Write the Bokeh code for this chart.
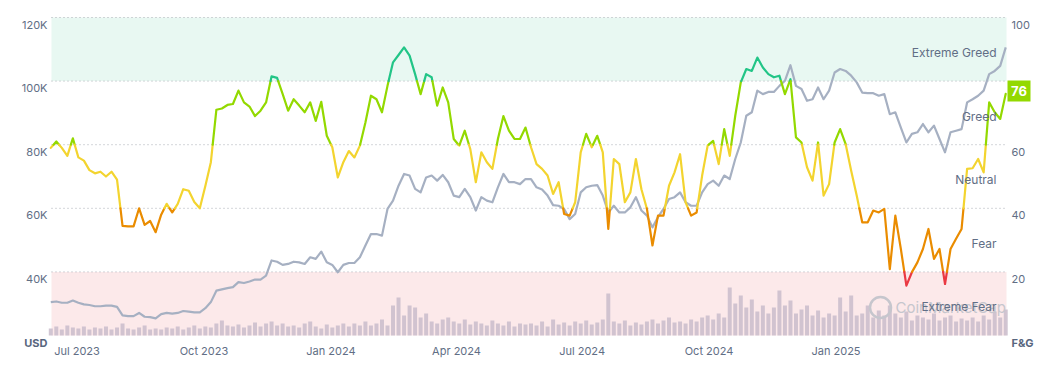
import numpy as np
import pandas as pd
from bokeh.plotting import figure
from bokeh.models import Range1d, BoxAnnotation
from bokeh.core.properties import value
from bokeh.embed import file_html
from bokeh.resources import INLINE

# ---------------- data ----------------
start_date = "2023-06-12"
n_points = 174
step = "4D"

fear_greed = [
    59, 61, 59, 56.5, 62, 56, 55, 52, 51, 51.5,
    50, 51.5, 49, 34.5, 34.3, 34.3, 40, 34.8, 36, 32.5,
    38, 41.4, 38.7, 41.4, 46, 45.5, 42, 40, 47, 54.5,
    71, 71.4, 72.5, 72.8, 77, 73.3, 72, 69, 70.7, 73.3,
    81.5, 81, 76, 70.7,
    74.3, 72.3, 70.2, 73.3, 67.5, 73.5, 62.8, 59.2, 49.7, 54.5,
    58, 56, 59.7, 67, 75.4, 74.3, 70.2, 78.5, 85.9, 88.2,
    90.6, 88, 82.2, 75.9, 82.2, 81.2, 72.3, 78, 73.3, 61.8,
    59.7, 64.4, 58.6, 48.2, 57.6, 54.5, 52.4, 61.8, 69, 64.4,
    61.8, 61.8, 65.4,
    59.2, 53.9, 52.4, 50.3, 44.5, 48.2, 38.2, 37.7, 41.9, 57.6,
    63.4, 59.2, 62.8, 57.6, 33.5, 55.5, 53.9, 41.9, 45, 55.5,
    46, 39.8, 28.3, 37.7, 37.7, 47.1, 51.3, 57, 41.9, 37.7,
    38.7, 50.3, 59.7, 61.2, 53.9, 64.9, 56.5, 69.1, 79.6, 83.8,
    83.2, 87.4, 84.3, 82.2,
    81.2, 81.7, 75.9, 80.6, 62.3, 60.7, 52.9, 48.7, 60.7, 44,
    47.6, 60.7, 64.9, 60.2, 51.8, 44, 35.6, 35.6, 39.3, 38.7,
    39.8, 20.9, 37.7, 27.2, 15.7, 19.9, 23, 27.2, 33.5, 24.1,
    27.2, 16.2, 27.2, 30.4, 33.5, 52.4, 52.6, 55.5, 51.3, 73.3,
    70.2, 68.1, 76,
]

btc_price_k = [
    30.5, 30.7, 30.3, 30.3, 31, 30.3, 29.8, 29.6, 29.2, 29.2,
    29.4, 29.4, 29.0, 26.3, 26.1, 26.1, 27.1, 25.9, 25.8, 25.4,
    26.7, 27.1, 26.9, 27.1, 27.7, 27.5, 27.3, 27.3, 28.6, 30.5,
    34.1, 34.5, 34.9, 35.2, 36.8, 36.5, 37, 37.6, 37.6, 38.8,
    43.6, 43.2, 42.2, 42.5,
    43.2, 43, 42.5, 44.6, 44.1, 46.4, 43, 42.2, 39.9, 42.2,
    42.8, 42.8, 44.6, 48.3, 51.9, 51.9, 51.4, 59.8, 62.4, 67.1,
    70.8, 70.3, 66.1, 65, 69.7, 70.3, 68.7, 70.5, 68.2, 64,
    63.5, 66.1, 63.5, 59.3, 63.5, 62.4, 61.9, 66.6, 70.8, 68.2,
    68.2, 67.6, 69.2,
    69.2, 66.6, 65.9, 64, 61, 60.8, 59.8, 56.6, 58.2, 65,
    66.6, 67.1, 67.3, 64, 58.7, 60.8, 58.7, 58.7, 60.3, 63.5,
    59.3, 57.7, 54, 57.2, 59.8, 62.9, 63.5, 65, 61.9, 60.8,
    60.8, 65, 67.6, 68.7, 67.1, 70.3, 69.2, 75.5, 80.7, 89.1,
    90.2, 97, 95.9, 96.6,
    96.6, 98.5, 100.1, 105, 98.5, 97.5, 93.8, 94.3, 98, 94.3,
    97, 102.7, 103.8, 103.2, 101.7, 99.6, 96.4, 96.2, 96.2, 95.4,
    95.9, 89.6, 90.2, 85.4, 80.7, 83.4, 83.9, 86.5, 83.9, 86,
    81.8, 77.6, 83.9, 84.4, 84.9, 93.3, 94.3, 95.4, 97, 102.2,
    103.2, 104.8, 110.6,
]

volume_rel = [
    7, 9, 6, 10, 8, 7, 9, 6, 8, 7,
    9, 6, 8, 12, 7, 6, 8, 10, 6, 7,
    6, 8, 7, 9, 6, 8, 10, 7, 9, 8,
    12, 15, 10, 9, 11, 8, 10, 13, 9, 12,
    14, 10, 12, 9,
    10, 8, 12, 14, 9, 7, 11, 8, 10, 12,
    9, 12, 10, 14, 10, 12, 16, 10,
    30, 38, 20, 30, 28, 18, 22,
    14, 12, 16, 18, 14, 12, 16, 11, 14, 12, 10, 15, 12, 10, 14, 9, 12, 11,
    12, 10, 14, 9, 16, 11, 13, 10, 14, 12,
    15, 11, 13, 16, 42, 14, 12, 15, 10, 13,
    11, 14, 16, 12, 15, 18, 13, 14, 12, 16,
    14, 18, 20, 16, 22, 18, 48, 32, 40, 28,
    36, 24, 30, 22,
    28, 45, 30, 35, 22, 26, 30, 20, 25, 18,
    22, 20, 38, 24, 40, 20, 22, 30, 18, 25,
    20, 30, 22, 18, 24, 15, 20, 18, 16, 22,
    15, 18, 20, 14, 17, 15, 18, 14, 20, 16,
    24, 18, 26,
]

x_tick_dates = ["2023-07-01", "2023-10-01", "2024-01-01", "2024-04-01",
                "2024-07-01", "2024-10-01", "2025-01-01"]
x_tick_labels = ["Jul 2023", "Oct 2023", "Jan 2024", "Apr 2024",
                 "Jul 2024", "Oct 2024", "Jan 2025"]
usd_ticks = [40, 60, 80, 100, 120]
usd_tick_labels = ["40K", "60K", "80K", "100K", "120K"]
fg_ticks = [20, 40, 60, 100]
fg_tick_labels = ["20", "40", "60", "100"]
grid_levels = [20, 40, 60, 80, 100]
zone_names = ["Extreme Greed", "Greed", "Neutral", "Fear", "Extreme Fear"]
zone_label_y = [89, 69, 49, 29, 9]
zone_bounds = [80, 60, 40, 20]
zone_colors = ["#22c587", "#93d900", "#f3d42f", "#ea8c00", "#ea3943"]
current_value = 76

# ---------------- layout (screen geometry) ----------------
W, H = 1048, 358
PL, PR, PT, PB = 51, 1006, 17, 335          # plot area in screen px
PX_PER_DAY = 1.38
ANCHOR_SX = 76.5                            # screen x of 2023-07-01
PX_PER_UNIT = (PB - PT) / 100.0
DAY = 86400000.0
anchor = pd.Timestamp("2023-07-01").value / 1e6


def sx_to_x(sx):
    return anchor + (sx - ANCHOR_SX) / PX_PER_DAY * DAY


def sy_to_fg(sy):
    return (PB - sy) / PX_PER_UNIT


x_lo, x_hi = sx_to_x(PL), sx_to_x(PR)

# ---------------- series prep ----------------
dates = pd.date_range(start_date, periods=n_points, freq=step)
x_ms = dates.values.astype("datetime64[ms]").astype("int64").astype(float)


def zone_of(v):
    for k, b in enumerate(zone_bounds):
        if v >= b:
            return k
    return len(zone_bounds)


pieces = []
for k in range(len(x_ms) - 1):
    x0, y0, x1, y1 = x_ms[k], fear_greed[k], x_ms[k + 1], fear_greed[k + 1]
    fr = [0.0]
    if y1 != y0:
        fr += sorted((b - y0) / (y1 - y0) for b in zone_bounds
                     if min(y0, y1) < b < max(y0, y1))
    fr.append(1.0)
    for a, b in zip(fr[:-1], fr[1:]):
        xa, ya = x0 + a * (x1 - x0), y0 + a * (y1 - y0)
        xb, yb = x0 + b * (x1 - x0), y0 + b * (y1 - y0)
        z = zone_of((ya + yb) / 2)
        if pieces and pieces[-1][0] == z:
            pieces[-1][1].append(xb)
            pieces[-1][2].append(yb)
        else:
            pieces.append([z, [xa, xb], [ya, yb]])

# ---------------- figure ----------------
FONT = value("Inter")
LABEL_COLOR = "#616e85"
UNIT_COLOR = "#58667e"

y_lo, y_hi = sy_to_fg(H), sy_to_fg(0)
p = figure(width=W, height=H, x_axis_type="datetime",
           x_axis_location=None, y_axis_location=None,
           toolbar_location=None, output_backend="svg",
           x_range=Range1d(sx_to_x(0), sx_to_x(W)), y_range=Range1d(y_lo, y_hi),
           min_border=0, min_border_left=0, min_border_right=0,
           min_border_top=0, min_border_bottom=0)
p.outline_line_color = None
p.background_fill_color = "white"
p.border_fill_color = "white"
p.grid.visible = False
p.extra_y_ranges = {
    "usd": Range1d(y_lo + 20, y_hi + 20),
    "vol": Range1d(PB - H, PB),
}

# zone bands
p.add_layout(BoxAnnotation(left=x_lo, right=x_hi, bottom=80, top=100,
                           fill_color="#e8f8f2", fill_alpha=1,
                           line_color=None, level="underlay"))
p.add_layout(BoxAnnotation(left=x_lo, right=x_hi, bottom=0, top=20,
                           fill_color="#fce9ea", fill_alpha=1,
                           line_color=None, level="underlay"))

# dotted grid lines
p.segment(x0=[x_lo] * len(grid_levels), x1=[x_hi] * len(grid_levels),
          y0=grid_levels, y1=grid_levels, line_color="#a9adb5",
          line_dash="1 3", line_width=1)

# volume bars
p.vbar(x=x_ms, top=volume_rel, width=4 * DAY * 0.72, y_range_name="vol",
       fill_color="#c9bccb", line_color=None, fill_alpha=0.85)

# price line
p.line(x=x_ms, y=btc_price_k, y_range_name="usd", line_color="#a6b0c2",
       line_width=2.2, line_join="round")

# fear & greed coloured line
p.multi_line(xs=[pc[1] for pc in pieces], ys=[pc[2] for pc in pieces],
             line_color=[zone_colors[pc[0]] for pc in pieces],
             line_width=2.2, line_join="round", line_cap="round")

# watermark
wm_x, wm_y = sx_to_x(880), sy_to_fg(307)
p.scatter(x=[wm_x], y=[wm_y], size=21, marker="circle", fill_color=None,
          line_color="#c6c6cd", line_width=2.5)
p.text(x=[wm_x], y=[wm_y], text=["CoinMarketCap"], x_offset=15,
       text_font=FONT, text_font_size="15px", text_color="#c6c6cd",
       text_align="left", text_baseline="middle")

# zone labels
p.text(x=[x_hi] * len(zone_names), y=zone_label_y, text=zone_names,
       x_offset=-10, text_align="right", text_baseline="middle",
       text_font=FONT, text_font_size="12px", text_color=LABEL_COLOR)

# axis tick labels (left: USD, right: F&G, bottom: dates)
lab_drop = 7 / PX_PER_UNIT
p.text(x=[x_lo] * len(usd_ticks), y=[t - 20 - lab_drop for t in usd_ticks],
       text=usd_tick_labels, x_offset=-4, text_align="right",
       text_baseline="middle", text_font=FONT, text_font_size="11px",
       text_color=LABEL_COLOR)
p.text(x=[x_hi] * len(fg_ticks), y=[t - lab_drop for t in fg_ticks],
       text=fg_tick_labels, x_offset=5, text_align="left",
       text_baseline="middle", text_font=FONT, text_font_size="11px",
       text_color=LABEL_COLOR)
p.text(x=[pd.Timestamp(d).value / 1e6 for d in x_tick_dates],
       y=[sy_to_fg(350.7)] * len(x_tick_dates), text=x_tick_labels,
       text_align="center", text_baseline="middle", text_font=FONT,
       text_font_size="11px", text_color=LABEL_COLOR)
p.text(x=[x_lo], y=[-lab_drop], text=["USD"], x_offset=-4, text_align="right",
       text_baseline="middle", text_font=FONT, text_font_size="11px",
       text_font_style="bold", text_color=UNIT_COLOR)
p.text(x=[x_hi], y=[-lab_drop], text=["F&G"], x_offset=5, text_align="left",
       text_baseline="middle", text_font=FONT, text_font_size="11px",
       text_font_style="bold", text_color=UNIT_COLOR)

# current value badge
badge_x, badge_y = sx_to_x(1018.5), sy_to_fg(90.5)
p.rect(x=[badge_x], y=[badge_y], width=23, height=21, width_units="screen",
       height_units="screen", fill_color="#93d900", line_color=None)
p.text(x=[badge_x], y=[badge_y], text=[str(current_value)], text_align="center",
       text_baseline="middle", text_font=FONT, text_font_size="13px",
       text_font_style="bold", text_color="white")

open("out.html", "w").write(file_html(p, INLINE))
